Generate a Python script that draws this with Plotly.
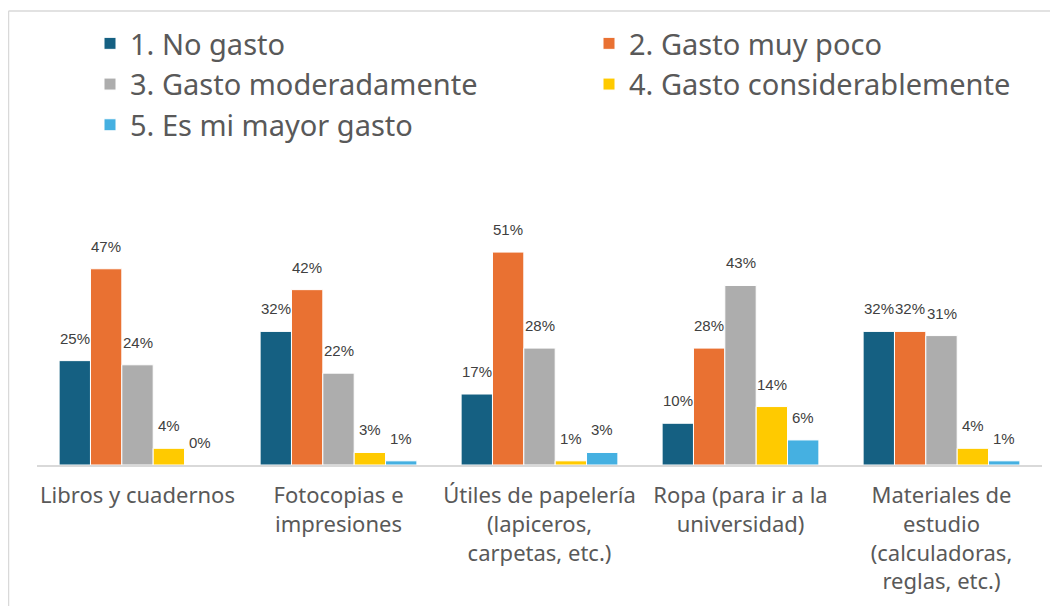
import plotly.graph_objects as go

categories = [
    "Libros y cuadernos",
    "Fotocopias e<br>impresiones",
    "Útiles de papelería<br>(lapiceros,<br>carpetas, etc.)",
    "Ropa (para ir a la<br>universidad)",
    "Materiales de<br>estudio<br>(calculadoras,<br>reglas, etc.)",
]
series_names = [
    "1. No gasto",
    "2. Gasto muy poco",
    "3. Gasto moderadamente",
    "4. Gasto considerablemente",
    "5. Es mi mayor gasto",
]
no_gasto = [25, 32, 17, 10, 32]
muy_poco = [47, 42, 51, 28, 32]
moderado = [24, 22, 28, 43, 31]
considerable = [4, 3, 1, 14, 4]
mayor = [0, 1, 3, 6, 1]
colors = ["#156082", "#E97132", "#ADADAD", "#FFCA00", "#45B0E1"]
legend_ids = ["legend", "legend2", "legend", "legend2", "legend"]

# page is offset by the 8px body margin
OFF = 8
W, H = 1058, 606
ML, MR, MT, MB = 37 - OFF, 24, 200 - OFF, 149
plot_w = W - ML - MR
plot_h = H - MT - MB
BARGAP = 0.22

all_series = [no_gasto, muy_poco, moderado, considerable, mayor]
n_series = len(all_series)
xpos = list(range(len(categories)))
bar_w = (1 - BARGAP) / n_series

fig = go.Figure()
annotations = []
for i, (name, vals, col, lg) in enumerate(zip(series_names, all_series, colors, legend_ids)):
    fig.add_trace(go.Bar(
        x=xpos, y=vals, name=name,
        marker=dict(color=col, line=dict(color="white", width=1)),
        legend=lg, hoverinfo="name+y",
    ))
    off = -(1 - BARGAP) / 2 + bar_w * (i + 0.5)
    for xi, v in zip(xpos, vals):
        annotations.append(dict(
            x=xi + off, y=v, xref="x", yref="y", text=f"{v}%", showarrow=False,
            yanchor="bottom", yshift=12,
            font=dict(family="Liberation Sans, Arial", size=15, color="#404040"),
        ))

leg_common = dict(
    orientation="v", bgcolor="rgba(0,0,0,0)",
    font=dict(family="Noto Sans, Open Sans, sans-serif", size=29, color="#595959"),
    yref="container", yanchor="top", xanchor="left", itemwidth=30,
    tracegroupgap=0,
)
fig.update_layout(
    width=W, height=H,
    margin=dict(l=ML, r=MR, t=MT, b=MB),
    paper_bgcolor="white", plot_bgcolor="white",
    barmode="group", bargap=BARGAP, bargroupgap=0,
    legend=dict(x=(82 - ML) / plot_w, y=1 - 10 / H, **leg_common),
    legend2=dict(x=(581 - ML) / plot_w, y=1 - 10 / H, **leg_common),
    xaxis=dict(
        range=[-0.5, len(categories) - 0.5],
        tickmode="array", tickvals=xpos, ticktext=categories,
        showline=True, linecolor="#D9D9D9", linewidth=2, showgrid=False, zeroline=False,
        ticks="", tickfont=dict(family="Noto Sans, Open Sans, sans-serif", size=22, color="#595959"),
        ticklabelstandoff=10,
    ),
    yaxis=dict(range=[0, plot_h / 4.175], visible=False, showgrid=False),
    annotations=annotations,
    shapes=[
        dict(type="line", xref="paper", yref="paper",
             x0=(0.5 - ML) / plot_w, x1=(0.5 - ML) / plot_w,
             y0=-2, y1=(H - MB - 3) / plot_h,
             line=dict(color="#D9D9D9", width=1.5)),
        dict(type="line", xref="paper", yref="paper",
             x0=(0.5 - ML) / plot_w, x1=1.2,
             y0=(H - MB - 3) / plot_h, y1=(H - MB - 3) / plot_h,
             line=dict(color="#D9D9D9", width=1.5)),
    ],
)

fig.write_html("out.html")
